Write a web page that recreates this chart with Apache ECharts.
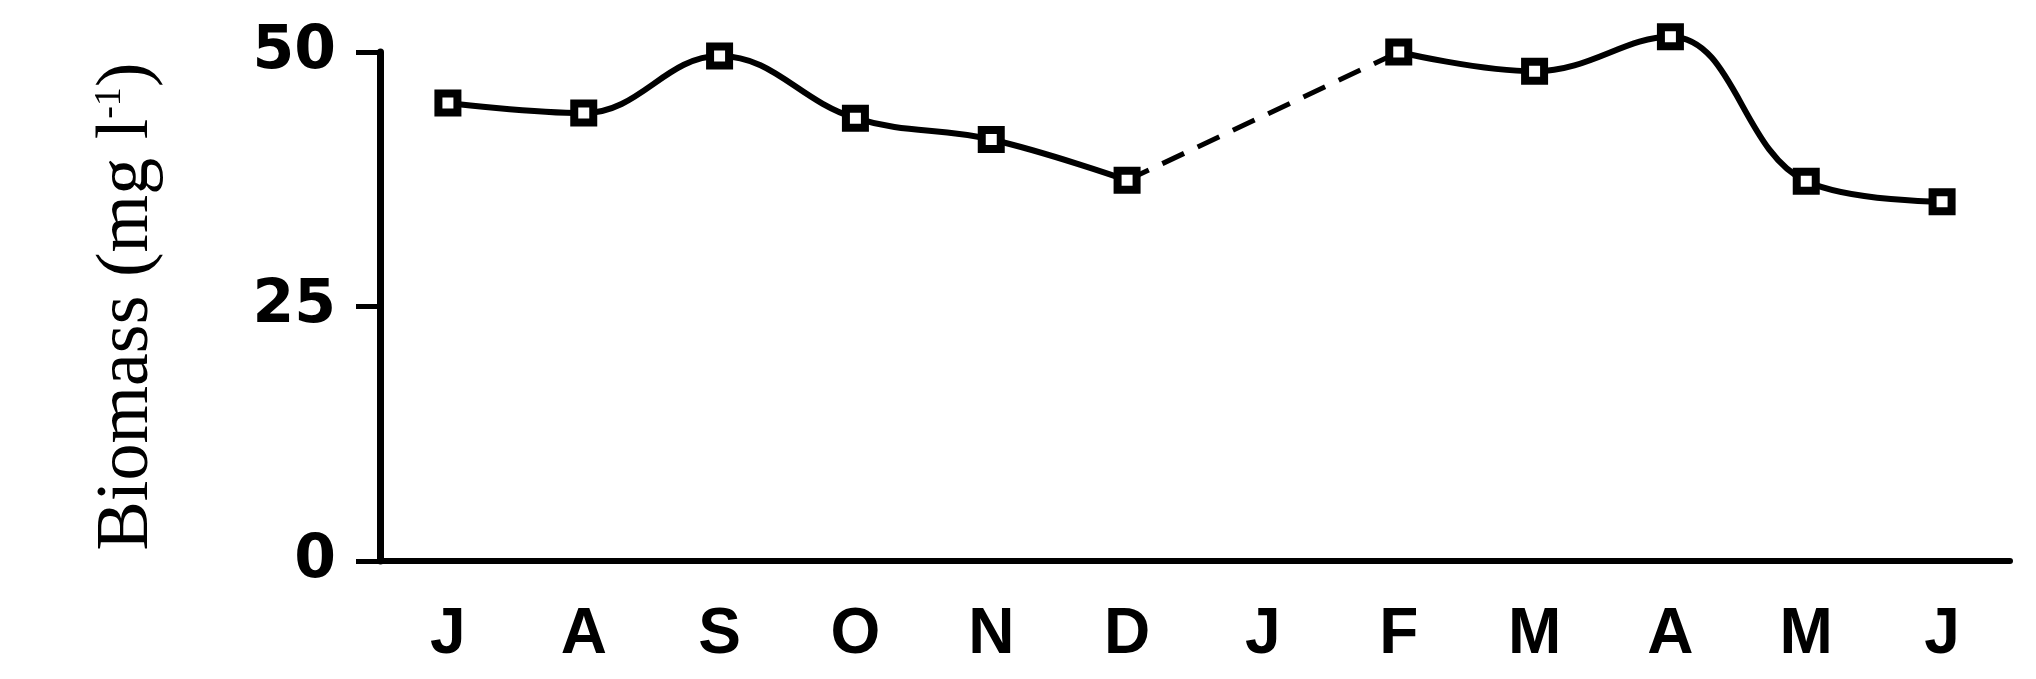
<!DOCTYPE html>
<html>
<head>
<meta charset="utf-8">
<title>Biomass</title>
<script src="https://cdn.jsdelivr.net/npm/echarts@6/dist/echarts.min.js"></script>
<style>
  html, body { margin: 0; padding: 0; background: #fff; }
  #chart { width: 2036px; height: 679px; }
</style>
</head>
<body>
<div id="chart"></div>
<script>
// Monthly sampling, July through June; January was not sampled.
const months = ['J', 'A', 'S', 'O', 'N', 'D', 'J', 'F', 'M', 'A', 'M', 'J'];
const biomass = [45.0, 44.0, 49.6, 43.5, 41.4, 37.4, null, 50.0, 48.1, 51.5, 37.3, 35.3];
const yTicks = { min: 0, max: 50, interval: 25 };

// Dashed bridge across the unsampled month: keep only the neighbours of each gap.
const bridge = biomass.map((v, i) => {
  const prevGap = i + 1 < biomass.length && biomass[i + 1] === null;
  const nextGap = i > 0 && biomass[i - 1] === null;
  return v !== null && (prevGap || nextGap) ? v : null;
});

const chart = echarts.init(document.getElementById('chart'), null, { renderer: 'canvas' });

chart.setOption({
  animation: false,
  backgroundColor: '#ffffff',
  grid: { left: 380, right: 26, top: 52, bottom: 118 },
  xAxis: {
    type: 'category',
    data: months,
    boundaryGap: true,
    axisLine: { lineStyle: { color: '#000', width: 6 } },
    axisTick: { alignWithLabel: true, length: 20, lineStyle: { color: '#000', width: 5 } },
    axisLabel: {
      interval: 0,
      margin: 42,
      color: '#000',
      fontFamily: 'Liberation Sans Narrow, Liberation Sans, Arial, sans-serif',
      fontWeight: 'bold',
      fontSize: 64
    },
    splitLine: { show: false }
  },
  yAxis: {
    type: 'value',
    min: yTicks.min,
    max: yTicks.max,
    interval: yTicks.interval,
    name: 'Biomass (mg l{sup|-1})',
    nameLocation: 'middle',
    nameRotate: 90,
    nameGap: 215,
    nameTextStyle: {
      color: '#000',
      fontFamily: 'Liberation Serif, Times New Roman, serif',
      fontSize: 74,
      rich: {
        sup: {
          color: '#000',
          fontFamily: 'Liberation Serif, Times New Roman, serif',
          fontSize: 38,
          verticalAlign: 'top',
          padding: [0, 0, 36, 0]
        }
      }
    },
    axisLine: { show: true, lineStyle: { color: '#000', width: 7 } },
    axisTick: { show: true, length: 24, lineStyle: { color: '#000', width: 5 } },
    axisLabel: {
      margin: 44,
      color: '#000',
      fontFamily: 'DejaVu Sans, sans-serif',
      fontWeight: 'bold',
      fontSize: 60
    },
    splitLine: { show: false }
  },
  series: [
    {
      name: 'bridge',
      type: 'line',
      data: bridge,
      connectNulls: true,
      symbol: 'none',
      clip: false,
      z: 1,
      lineStyle: { color: '#000', width: 5, type: [24, 15] }
    },
    {
      name: 'biomass',
      type: 'line',
      data: biomass,
      connectNulls: false,
      smooth: 0.4,
      clip: false,
      z: 2,
      symbol: 'rect',
      symbolSize: 19,
      showSymbol: true,
      lineStyle: { color: '#000', width: 6 },
      itemStyle: { color: '#fff', borderColor: '#000', borderWidth: 8 }
    }
  ]
});
</script>
</body>
</html>
